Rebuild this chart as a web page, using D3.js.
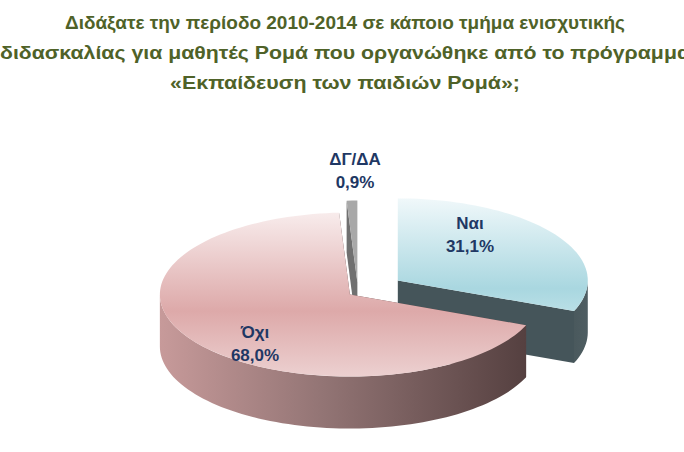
<!DOCTYPE html>
<html><head><meta charset="utf-8">
<script src="https://cdn.jsdelivr.net/npm/d3@7"></script>
<style>body{margin:0;background:#fff}svg{display:block}</style>
</head><body>
<svg id="chart" width="684" height="452"></svg>
<script>
// data
var categories = ["Ναι", "Όχι", "ΔΓ/ΔΑ"];
var values = [31.1, 68.0, 0.9];
var valueLabels = ["31,1%", "68,0%", "0,9%"];
var titleLines = ["Διδάξατε την περίοδο 2010-2014 σε κάποιο τμήμα ενισχυτικής",
                  "διδασκαλίας για μαθητές Ρομά που οργανώθηκε από το πρόγραμμα",
                  "«Εκπαίδευση των παιδιών Ρομά»;"];

var svg = d3.select("#chart");
var cx = 358, cy = 292, rx = 190, ry = 82, depth = 52;
var explode = [48, 10, 22];
var deg = Math.PI / 180;

// title
var lineW = [560, 690, 350];
svg.selectAll("text.title").data(titleLines).enter().append("text")
    .attr("class", "title")
    .attr("x", 345).attr("y", function(d, i) { return 29 + i * 30; })
    .attr("text-anchor", "middle")
    .attr("textLength", function(d, i) { return lineW[i]; })
    .attr("lengthAdjust", "spacingAndGlyphs")
    .style("font", "bold 19px 'Liberation Sans Narrow', 'Liberation Sans', sans-serif")
    .style("fill", "#4f6228")
    .text(function(d) { return d; });

// gradients
var defs = svg.append("defs");
function grad(id, dir, stops) {
    var g = defs.append("linearGradient").attr("id", id)
        .attr("x1", 0).attr("y1", 0)
        .attr("x2", dir == "h" ? 1 : 0).attr("y2", dir == "h" ? 0 : 1);
    stops.forEach(function(s) { g.append("stop").attr("offset", s[0]).attr("stop-color", s[1]); });
}
grad("naiTop", "v", [[0, "#f0f8fa"], [0.8, "#a9d7e0"], [1, "#b9dfe6"]]);
grad("ochiTop", "v", [[0, "#f8ecec"], [0.6, "#dda9a9"], [1, "#ecd0d0"]]);
grad("ochiWall", "h", [[0, "#c79a9a"], [0.45, "#927474"], [1, "#554040"]]);
grad("naiWall", "h", [[0, "#4a595d"], [1, "#4e5d62"]]);

var topFill = ["url(#naiTop)", "url(#ochiTop)", "#a8a8a8"];
var wallFill = ["url(#naiWall)", "url(#ochiWall)", "#5e5e5e"];
var faceFill = ["#45555a", "#5d4646", "#707070"];

var pie = d3.pie().sort(null).value(function(d) { return d; });
var arcs = pie(values);

function pt(a, ox, oy, dz) {
    return [ox + rx * Math.sin(a), oy - ry * Math.cos(a) + dz];
}
function arcPts(a0, a1, ox, oy, dz) {
    var n = Math.max(2, Math.ceil((a1 - a0) / (2 * deg))), p = [];
    for (var i = 0; i <= n; i++) p.push(pt(a0 + (a1 - a0) * i / n, ox, oy, dz));
    return p;
}
var line = d3.line();

// draw order: back slices first
[2, 0, 1].forEach(function(i) {
    var a = arcs[i], mid = (a.startAngle + a.endAngle) / 2;
    var ox = cx + explode[i] * Math.sin(mid);
    var oy = cy - explode[i] * Math.cos(mid) * ry / rx;
    var g = svg.append("g");
    // radial faces
    [a.startAngle, a.endAngle].forEach(function(ang) {
        var e = pt(ang, ox, oy, 0);
        g.append("path").attr("fill", faceFill[i])
            .attr("d", line([[ox, oy], e, [e[0], e[1] + depth], [ox, oy + depth]]) + "Z");
    });
    // outer wall (front half)
    var w0 = Math.max(a.startAngle, 90 * deg), w1 = Math.min(a.endAngle, 270 * deg);
    if (w1 > w0) {
        var top = arcPts(w0, w1, ox, oy, 0), bot = arcPts(w0, w1, ox, oy, depth).reverse();
        g.append("path").attr("fill", wallFill[i]).attr("d", line(top.concat(bot)) + "Z");
    }
    // top face
    g.append("path").attr("fill", topFill[i])
        .attr("d", line([[ox, oy]].concat(arcPts(a.startAngle, a.endAngle, ox, oy, 0))) + "Z");
});

// labels
var labelPos = [[470, 229], [255, 338], [355, 165]];
labelPos.forEach(function(p, i) {
    var t = svg.append("text").attr("x", p[0]).attr("y", p[1]).attr("text-anchor", "middle")
        .style("font", "bold 17px 'Liberation Sans', sans-serif").style("fill", "#1f3864");
    t.append("tspan").attr("x", p[0]).text(categories[i]);
    t.append("tspan").attr("x", p[0]).attr("dy", 23).text(valueLabels[i]);
});
</script>
</body></html>
